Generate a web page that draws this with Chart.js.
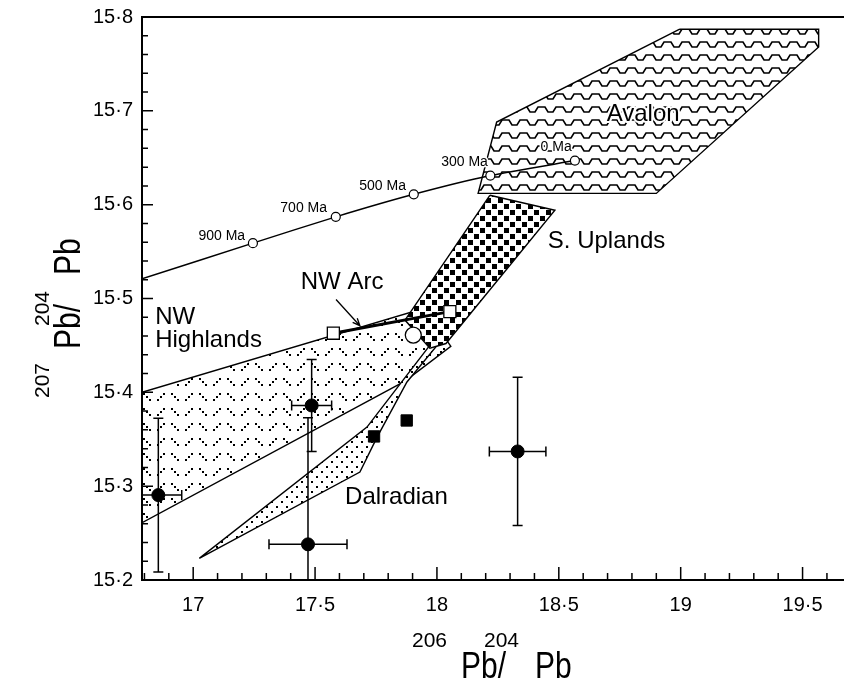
<!DOCTYPE html>
<html>
<head>
<meta charset="utf-8">
<script src="https://cdn.jsdelivr.net/npm/chart.js@4.4.0/dist/chart.umd.min.js"></script>
<style>
  html, body { margin: 0; padding: 0; background: #fff; }
  #contenedor { width: 844px; height: 682px; position: relative; }
</style>
</head>
<body>
<div id="contenedor"><canvas id="pbChart"></canvas></div>
<script>
// Rango de ejes
const xMin = 16.79, xMax = 19.67;
const yMin = 15.2, yMax = 15.8;
const xTicks = [17, 17.5, 18, 18.5, 19, 19.5];
const xTickLabels = ['17', '17·5', '18', '18·5', '19', '19·5'];
const yTicks = [15.2, 15.3, 15.4, 15.5, 15.6, 15.7, 15.8];
const yTickLabels = ['15·2', '15·3', '15·4', '15·5', '15·6', '15·7', '15·8'];

// Curva de evolucion del Pb (edades)
const curvaX = [16.79, 17.245, 17.585, 17.905, 18.219, 18.566];
const curvaY = [15.521, 15.559, 15.587, 15.611, 15.631, 15.647];
const edades = ['', '900 Ma', '700 Ma', '500 Ma', '300 Ma', '0 Ma'];
const edadesX = [0, 17.213, 17.549, 17.873, 18.209, 18.553];
const edadesY = [0, 15.566, 15.596, 15.620, 15.645, 15.661];

// Campos (poligonos)
const avalonX = [18.996, 19.566, 19.566, 18.900, 18.169, 18.245];
const avalonY = [15.787, 15.787, 15.768, 15.612, 15.612, 15.688];
const uplandsX = [18.217, 18.484, 18.037, 17.971, 17.869];
const uplandsY = [15.610, 15.594, 15.452, 15.447, 15.477];
const dalradianX = [17.025, 17.713, 18.074, 18.102, 17.877, 17.754, 17.684];
const dalradianY = [15.223, 15.363, 15.485, 15.482, 15.411, 15.352, 15.315];
const highlandsX = [16.79, 17.889, 18.012, 18.057, 17.869, 16.79];
const highlandsY = [15.400, 15.485, 15.466, 15.449, 15.412, 15.261];

// NW Arc
const arcoX = [17.575, 18.053];
const arcoY = [15.463, 15.486];
const circuloX = [17.903];
const circuloY = [15.461];

// Cuadrados negros
const cuadX = [17.742, 17.876];
const cuadY = [15.353, 15.370];

// Muestras con barras de error
const muestraX = [16.857, 17.486, 17.471, 18.331];
const muestraY = [15.2905, 15.386, 15.238, 15.337];
const errX = [0.096, 0.082, 0.160, 0.116];
const errY = [0.082, 0.049, 0.135, 0.079];

// Etiquetas de los campos
const etiquetas = ['Avalon', 'S. Uplands', 'NW Arc', 'NW', 'Highlands', 'Dalradian'];
const etiquetasX = [18.846, 18.455, 17.611, 16.844, 16.844, 17.623];
const etiquetasY = [15.696, 15.561, 15.517, 15.480, 15.455, 15.288];
const etiquetasAlin = ['center', 'left', 'center', 'left', 'left', 'left'];

// Flecha de NW Arc
const flechaX = [17.586, 17.684];
const flechaY = [15.499, 15.471];

const fuente = "'Liberation Sans', Arial, Helvetica, sans-serif";

function puntos(xs, ys) {
  return xs.map((x, i) => ({ x: x, y: ys[i] }));
}

function cerrado(xs, ys) {
  const p = puntos(xs, ys);
  p.push({ x: xs[0], y: ys[0] });
  return p;
}

// Crear un patron de relleno
function crearPatron(ctxDestino, w, h, dibujar) {
  const c = document.createElement('canvas');
  c.width = w;
  c.height = h;
  const g = c.getContext('2d');
  g.fillStyle = '#fff';
  g.fillRect(0, 0, w, h);
  g.fillStyle = '#000';
  g.strokeStyle = '#000';
  dibujar(g);
  return ctxDestino.createPattern(c, 'repeat');
}

const canvas = document.getElementById('pbChart');
const ctx0 = canvas.getContext('2d');

const patronAvalon = crearPatron(ctx0, 18, 13, g => {
  // ondas en zigzag
  g.lineWidth = 1.6;
  g.beginPath();
  g.moveTo(0, 3); g.lineTo(5, 3); g.lineTo(8, 8); g.lineTo(13, 8); g.lineTo(16, 3); g.lineTo(18, 3);
  g.stroke();
});
const patronUplands = crearPatron(ctx0, 12, 12, g => {
  g.fillRect(0, 0, 5, 5);
  g.fillRect(6, 6, 5, 5);
});
const patronDalradian = crearPatron(ctx0, 10, 10, g => {
  g.fillRect(1, 1, 2, 2);
  g.fillRect(6, 6, 2, 2);
});
const patronHighlands = crearPatron(ctx0, 28, 15, g => {
  // trazos punteados en espiga
  for (let k = 0; k < 3; k++) {
    g.fillRect(3 + k * 3, 3 + k * 3, 2, 2);
    g.fillRect(23 - k * 3, 3 + k * 3, 2, 2);
  }
});

// Dibujo de textos, flecha y barras de error
const pluginAnotaciones = {
  id: 'anotaciones',
  afterDatasetsDraw(chart) {
    const ctx = chart.ctx;
    const sx = chart.scales.x, sy = chart.scales.y;
    const area = chart.chartArea;
    ctx.save();
    ctx.beginPath();
    ctx.rect(area.left, area.top, area.right - area.left, area.bottom - area.top);
    ctx.clip();

    // barras de error
    ctx.strokeStyle = '#000';
    ctx.lineWidth = 1.5;
    const cap = 5;
    muestraX.forEach((x, i) => {
      const px = sx.getPixelForValue(x), py = sy.getPixelForValue(muestraY[i]);
      const x1 = sx.getPixelForValue(x - errX[i]), x2 = sx.getPixelForValue(x + errX[i]);
      const y1 = sy.getPixelForValue(muestraY[i] + errY[i]), y2 = sy.getPixelForValue(muestraY[i] - errY[i]);
      ctx.beginPath();
      ctx.moveTo(x1, py); ctx.lineTo(x2, py);
      ctx.moveTo(x1, py - cap); ctx.lineTo(x1, py + cap);
      ctx.moveTo(x2, py - cap); ctx.lineTo(x2, py + cap);
      ctx.moveTo(px, y1); ctx.lineTo(px, y2);
      ctx.moveTo(px - cap, y1); ctx.lineTo(px + cap, y1);
      ctx.moveTo(px - cap, y2); ctx.lineTo(px + cap, y2);
      ctx.stroke();
    });

    // flecha
    const fx1 = sx.getPixelForValue(flechaX[0]), fy1 = sy.getPixelForValue(flechaY[0]);
    const fx2 = sx.getPixelForValue(flechaX[1]), fy2 = sy.getPixelForValue(flechaY[1]);
    const ang = Math.atan2(fy2 - fy1, fx2 - fx1);
    ctx.lineWidth = 1.3;
    ctx.beginPath();
    ctx.moveTo(fx1, fy1); ctx.lineTo(fx2, fy2);
    ctx.moveTo(fx2 - 8 * Math.cos(ang - 0.4), fy2 - 8 * Math.sin(ang - 0.4));
    ctx.lineTo(fx2, fy2);
    ctx.lineTo(fx2 - 8 * Math.cos(ang + 0.4), fy2 - 8 * Math.sin(ang + 0.4));
    ctx.stroke();

    // etiquetas de edad
    ctx.textBaseline = 'middle';
    ctx.font = '14px ' + fuente;
    ctx.textAlign = 'right';
    ctx.lineJoin = 'round';
    edades.forEach((t, i) => {
      if (!t) return;
      const px = sx.getPixelForValue(edadesX[i]), py = sy.getPixelForValue(edadesY[i]);
      ctx.strokeStyle = '#fff';
      ctx.lineWidth = 3;
      ctx.strokeText(t, px, py);
      ctx.fillStyle = '#000';
      ctx.fillText(t, px, py);
    });

    // etiquetas de campos
    ctx.font = '24px ' + fuente;
    etiquetas.forEach((t, i) => {
      const px = sx.getPixelForValue(etiquetasX[i]), py = sy.getPixelForValue(etiquetasY[i]);
      ctx.textAlign = etiquetasAlin[i];
      ctx.strokeStyle = '#fff';
      ctx.lineWidth = 4;
      ctx.strokeText(t, px, py);
      ctx.fillStyle = '#000';
      ctx.fillText(t, px, py);
    });
    ctx.restore();
  },
  afterDraw(chart) {
    const ctx = chart.ctx;
    const sx = chart.scales.x, sy = chart.scales.y;
    const a = chart.chartArea;
    ctx.save();
    ctx.strokeStyle = '#000';
    ctx.lineWidth = 2;
    ctx.beginPath();
    ctx.moveTo(a.right, a.top); ctx.lineTo(a.left, a.top);
    ctx.lineTo(a.left, a.bottom); ctx.lineTo(a.right, a.bottom);
    ctx.stroke();

    // marcas hacia dentro
    ctx.lineWidth = 1.5;
    ctx.beginPath();
    for (let i = 0; i <= 30; i++) {
      const py = sy.getPixelForValue(yMin + i * 0.02);
      const largo = i % 5 === 0 ? 11 : 6;
      ctx.moveTo(a.left, py); ctx.lineTo(a.left + largo, py);
    }
    for (let i = 168; i <= 196; i++) {
      const px = sx.getPixelForValue(i / 10);
      const largo = i % 5 === 0 ? 13 : 7;
      ctx.moveTo(px, a.bottom); ctx.lineTo(px, a.bottom - largo);
    }
    ctx.stroke();

    // titulos de ejes
    ctx.fillStyle = '#000';
    ctx.textBaseline = 'alphabetic';
    ctx.textAlign = 'left';
    dibujarTitulo(ctx, 412, 678, 0, ['206', 'Pb/', '204', 'Pb']);
    dibujarTitulo(ctx, 80, 398, -Math.PI / 2, ['207', 'Pb/', '204', 'Pb']);
    ctx.restore();
  }
};

// Titulo con superindices: [sup, texto, sup, texto]
const titPos = [0, 49, 72, 123];
function dibujarTitulo(ctx, x, y, rot, partes) {
  ctx.save();
  ctx.translate(x, y);
  ctx.rotate(rot);
  partes.forEach((t, i) => {
    if (i % 2 === 0) {
      ctx.font = '21px ' + fuente;
      ctx.fillText(t, titPos[i], -31);
    } else {
      ctx.font = '30px ' + fuente;
      ctx.save();
      ctx.translate(titPos[i], 0);
      ctx.scale(1, 1.2);
      ctx.fillText(t, 0, 0);
      ctx.restore();
    }
  });
  ctx.restore();
}

function poligono(datos, patron, orden) {
  return {
    data: datos,
    showLine: true,
    fill: 'shape',
    backgroundColor: patron,
    borderColor: '#000',
    borderWidth: 1.4,
    pointRadius: 0,
    tension: 0,
    order: orden
  };
}

const grafica = new Chart(canvas, {
  type: 'scatter',
  data: {
    datasets: [
      {
        data: puntos(muestraX, muestraY),
        pointRadius: 6.5,
        pointBackgroundColor: '#000',
        pointBorderColor: '#000',
        order: 0
      },
      {
        data: puntos(cuadX, cuadY),
        pointStyle: 'rect',
        pointRadius: 8,
        pointBackgroundColor: '#000',
        pointBorderColor: '#000',
        order: 1
      },
      {
        data: puntos(circuloX, circuloY),
        pointRadius: 8,
        pointBackgroundColor: '#fff',
        pointBorderColor: '#000',
        pointBorderWidth: 1.3,
        order: 1
      },
      {
        data: puntos(arcoX, arcoY),
        showLine: true,
        borderColor: '#000',
        borderWidth: 3,
        pointStyle: 'rect',
        pointRadius: 8.5,
        pointBackgroundColor: '#fff',
        pointBorderColor: '#000',
        pointBorderWidth: 1.3,
        order: 2
      },
      {
        data: puntos(curvaX, curvaY),
        showLine: true,
        borderColor: '#000',
        borderWidth: 1.5,
        tension: 0.2,
        pointRadius: ctx => ctx.dataIndex === 0 ? 0 : 4.5,
        pointBackgroundColor: '#fff',
        pointBorderColor: '#000',
        pointBorderWidth: 1.2,
        order: 3
      },
      poligono(cerrado(avalonX, avalonY), patronAvalon, 5),
      poligono(cerrado(uplandsX, uplandsY), patronUplands, 6),
      poligono(cerrado(dalradianX, dalradianY), patronDalradian, 7),
      poligono(cerrado(highlandsX, highlandsY), patronHighlands, 8)
    ]
  },
  options: {
    responsive: true,
    maintainAspectRatio: false,
    animation: false,
    layout: { autoPadding: false, padding: { top: 17, left: 0, right: 0, bottom: 0 } },
    plugins: {
      legend: { display: false },
      tooltip: { enabled: false }
    },
    scales: {
      x: {
        type: 'linear',
        min: xMin,
        max: xMax,
        afterBuildTicks: s => { s.ticks = xTicks.map(v => ({ value: v })); },
        afterFit: s => { s.height = 102; s.paddingLeft = 0; s.paddingRight = 0; },
        ticks: {
          autoSkip: false,
          maxRotation: 0,
          padding: 13,
          color: '#000',
          font: { size: 20, family: fuente },
          callback: v => xTickLabels[xTicks.indexOf(v)]
        },
        grid: { display: false, drawTicks: false },
        border: { display: false }
      },
      y: {
        type: 'linear',
        min: yMin,
        max: yMax,
        afterBuildTicks: s => { s.ticks = yTicks.map(v => ({ value: v })); },
        afterFit: s => { s.width = 142; s.paddingTop = 0; s.paddingBottom = 0; },
        ticks: {
          autoSkip: false,
          padding: 9,
          color: '#000',
          font: { size: 20, family: fuente },
          callback: v => yTickLabels[yTicks.indexOf(v)]
        },
        grid: { display: false, drawTicks: false },
        border: { display: false }
      }
    }
  },
  plugins: [pluginAnotaciones]
});
</script>
</body>
</html>
